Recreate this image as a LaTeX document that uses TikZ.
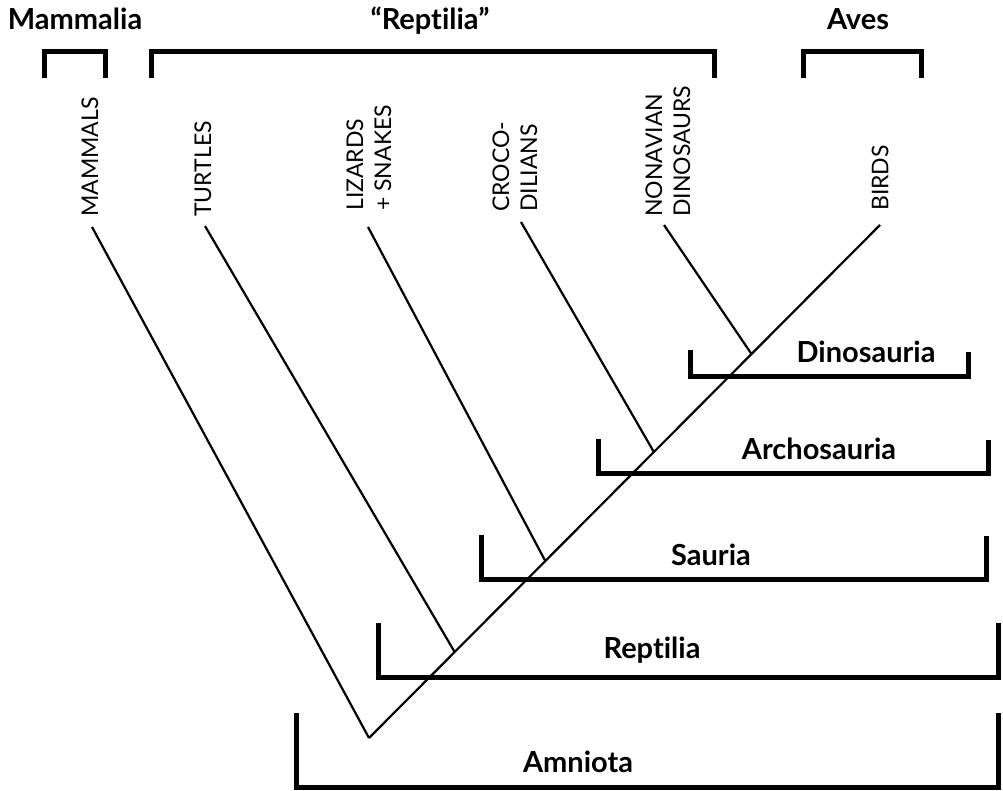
\documentclass[tikz,border=0pt]{standalone}
\usepackage{fontspec}
\setmainfont{Lato}[Ligatures=NoCommon]
\usetikzlibrary{calc}
\definecolor{treeink}{RGB}{0,0,0}

\begin{document}
\begin{tikzpicture}[
    x=1pt, y=-1pt,
    taxon/.style={rotate=90, anchor=west, inner sep=0pt, align=left,
        font=\fontsize{23}{28}\selectfont, text=treeink},
    clade/.style={anchor=base, inner sep=0pt,
        font=\fontsize{29}{33}\selectfont\bfseries, text=treeink},
    branch/.style={draw=treeink, line width=2.2pt},
    cladebar/.style={draw=treeink, line width=5pt, line join=miter}
]
\useasboundingbox (0,0) rectangle (1003,791);

% tip labels
\node[taxon] (mammals) at (90,217) {MAMMALS};
\node[taxon] (turtles) at (203,217) {TURTLES};
\node[taxon] (lizards) at (369,211) {LIZARDS\\+ SNAKES};
\node[taxon] (crocs) at (515,212) {CROCO-\\DILIANS};
\node[taxon] (dinos) at (668,217) {NONAVIAN\\DINOSAURS};
\node[taxon] (birds) at (880,211) {BIRDS};

% tree
\coordinate (root) at (369,738);
\coordinate (mammalsTip) at (92,227);
\coordinate (turtlesTip) at (205,226);
\coordinate (lizardsTip) at (368,227);
\coordinate (crocsTip) at (521,222);
\coordinate (dinosTip) at (664,225);
\coordinate (birdsTip) at (880,225);

\coordinate (jTurtles) at ($(root)!0.1676!(birdsTip)$);
\coordinate (jLizards) at ($(root)!0.345!(birdsTip)$);
\coordinate (jCrocs) at ($(root)!0.5575!(birdsTip)$);
\coordinate (jDinos) at ($(root)!0.7485!(birdsTip)$);

\draw[branch] (root) -- (birdsTip);
\draw[branch] (mammalsTip) -- (root);
\draw[branch] (turtlesTip) -- (jTurtles);
\draw[branch] (lizardsTip) -- (jLizards);
\draw[branch] (crocsTip) -- (jCrocs);
\draw[branch] (dinosTip) -- (jDinos);

% groups on top
\draw[cladebar] (44.5,78) -- (44.5,52) -- (105,52) -- (105,78);
\draw[cladebar] (151,78) -- (151,52) -- (714.5,52) -- (714.5,78);
\draw[cladebar] (803,78) -- (803,52) -- (921,52) -- (921,78);
\node[clade] (mammalia) at (75,30) {Mammalia};
\node[clade] (paraRept) at (430,30) {“Reptilia”};
\node[clade] (aves) at (858,30) {Aves};

% nested clades
\draw[cladebar] (690,350) -- (690,376) -- (968,376) -- (968,352);
\draw[cladebar] (598.5,439) -- (598.5,473.5) -- (988,473.5) -- (988,440);
\draw[cladebar] (481,535) -- (481,579) -- (986,579) -- (986,536);
\draw[cladebar] (378,623) -- (378,677) -- (998,677) -- (998,623);
\draw[cladebar] (296,713) -- (296,787) -- (998,787) -- (998,713);
\node[clade] (dinosauria) at (866,362) {Dinosauria};
\node[clade] (archosauria) at (819,459) {Archosauria};
\node[clade] (sauria) at (711,565) {Sauria};
\node[clade] (reptilia) at (652,658) {Reptilia};
\node[clade] (amniota) at (578,772) {Amniota};

\end{tikzpicture}
\end{document}
